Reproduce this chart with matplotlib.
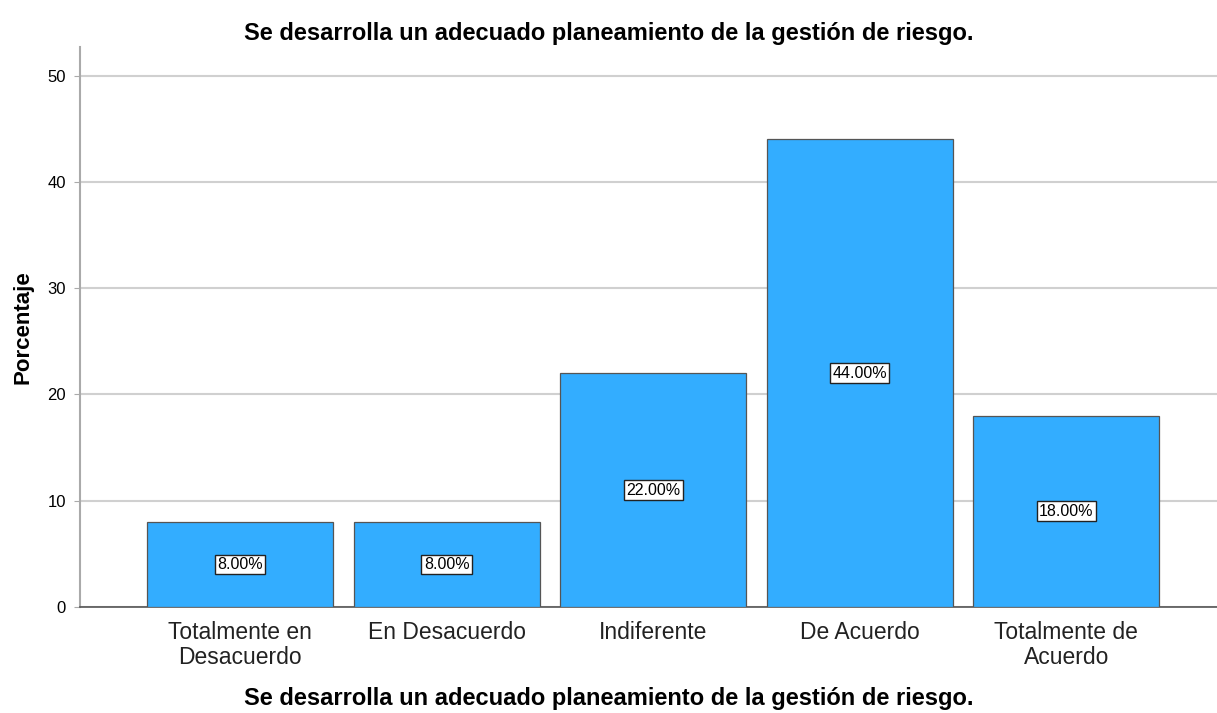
import matplotlib.pyplot as plt

plt.rcParams['font.family'] = ['Liberation Sans', 'DejaVu Sans']

# data
categories = ["Totalmente en\nDesacuerdo", "En Desacuerdo", "Indiferente",
              "De Acuerdo", "Totalmente de\nAcuerdo"]
percent = [8.0, 8.0, 22.0, 44.0, 18.0]
title = "Se desarrolla un adecuado planeamiento de la gestión de riesgo."

fig = plt.figure(figsize=(12.17, 7.13), dpi=100)
ax = fig.add_axes([0.0657, 0.1487, 0.9343, 0.7853])

x = range(len(categories))
ax.bar(x, percent, width=0.9, color="#33adff", edgecolor="#555555", linewidth=0.9, zorder=3)

for xi, v in zip(x, percent):
    ax.text(xi, v / 2, f"{v:.2f}%", ha="center", va="center", fontsize=11.5, zorder=4,
            bbox=dict(boxstyle="square,pad=0.15", facecolor="white", edgecolor="#222222", linewidth=1))

ax.set_xlim(-0.775, 4.73)
ax.set_ylim(0, 52.7)
ax.set_yticks([0, 10, 20, 30, 40, 50])
ax.yaxis.grid(True, color="#d0d0d0", linewidth=1.5, zorder=0)
ax.set_xticks(list(x))
ax.set_xticklabels(categories, fontsize=16.5, color="#222222", linespacing=1.1)
ax.tick_params(axis="x", length=0, pad=10)
ax.tick_params(axis="y", labelsize=12, length=4, color="#aaaaaa", pad=6)

for side in ["top", "right"]:
    ax.spines[side].set_visible(False)
ax.spines["left"].set_color("#aaaaaa")
ax.spines["left"].set_linewidth(1.5)
ax.spines["bottom"].set_color("#555555")
ax.spines["bottom"].set_linewidth(1.2)

ax.set_ylabel("Porcentaje", fontsize=16, fontweight="bold", labelpad=10)
fig.text(0.5, 0.953, title, ha="center", va="center", fontsize=17, fontweight="bold")
fig.text(0.5, 0.021, title, ha="center", va="center", fontsize=17, fontweight="bold")

fig.savefig("out.png", dpi=100)
